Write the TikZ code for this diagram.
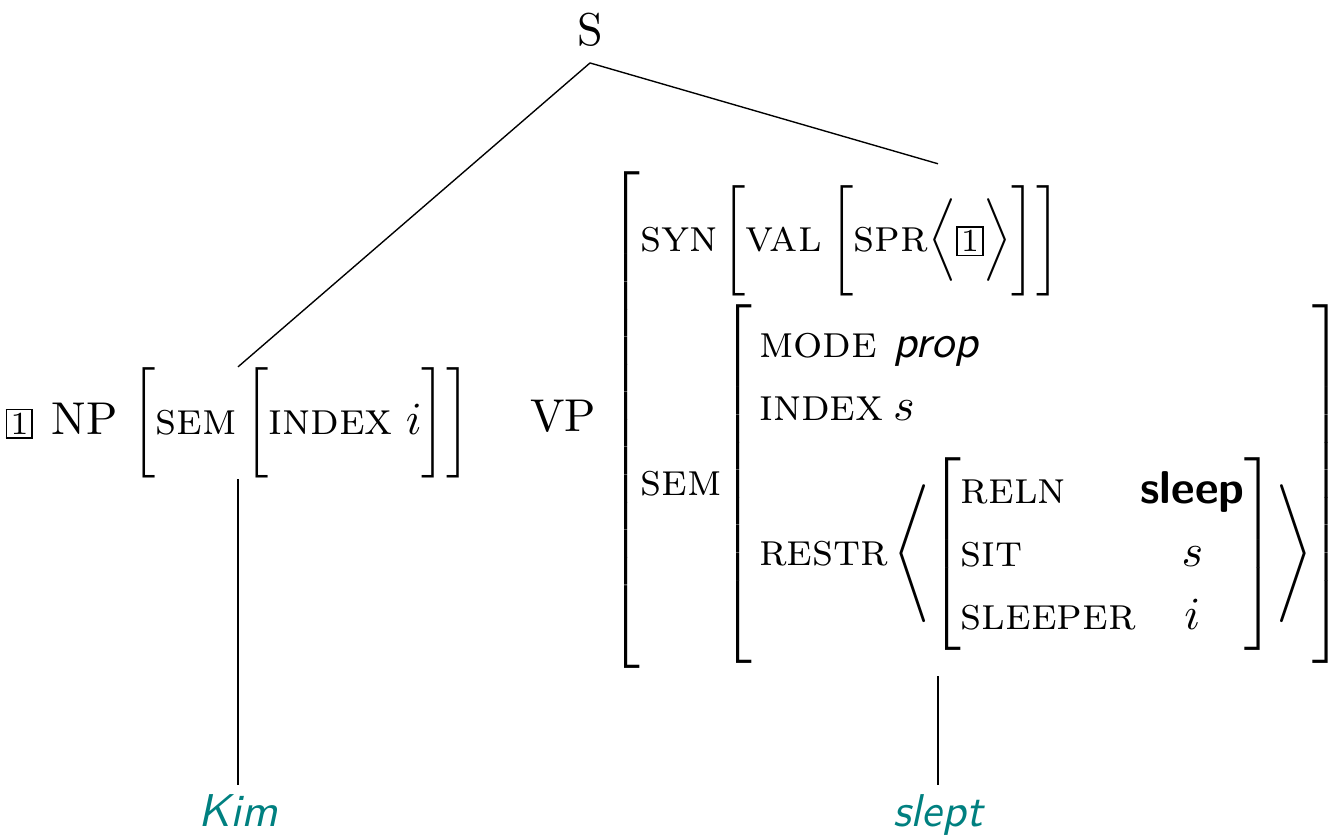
\documentclass[tikz,border=0pt]{standalone}
\usepackage{amsmath}
\usepackage{xcolor}
\usetikzlibrary{positioning}
\definecolor{cLeaf}{RGB}{0,128,128}
\newcommand{\tg}[1]{{\setlength{\fboxsep}{0.6pt}\setlength{\fboxrule}{0.4pt}\fbox{\scriptsize #1}}}
\newcommand{\att}[1]{\text{\textsc{#1}}}
\newcommand{\vsz}[1]{\vcenter{\hrule height #1 width 0pt}}
\tikzset{
	cat/.style   ={inner sep=0pt},
	leaf/.style  ={font=\sffamily\itshape, text=cLeaf, inner sep=2pt},
	branch/.style={line width=0.3pt},
}

\begin{document}
\begin{tikzpicture}[x=0.2174pt, y=-0.2174pt]
	\clip (0,0) rectangle (1336,836);
	\node (s) at (590,30) {S};
	\node[cat] (np) at (238,423) {\tg{1}\hspace{4pt}NP\hspace{3pt}$\biggl[\att{sem}\,\biggl[\att{index}\;i\biggr]\biggr]$};
	\node[cat] (vp) at (938,420) {\renewcommand{\arraystretch}{1.14}%
		\hspace*{6pt}VP\hspace{3pt}$\left[\begin{array}{@{}l@{}l@{}}
			\att{syn}\rule{0pt}{18.4pt} & \biggl[\att{val}\,\biggl[\att{spr}\Bigl\langle\text{\tg{1}}\Bigr\rangle\biggr]\biggr]\\[4.3pt]
			\att{sem} & \left[\begin{array}{@{\hspace{1.5pt}}l@{\hspace{1pt}}l@{}}
				\att{mode}  & \textsf{\textit{prop}}\\
				\att{index} & s\\[3pt]
				\att{restr} & \Biggl\langle\left[\begin{array}{@{}l@{\hspace{1pt}}c@{}}
					\att{reln}    & \textsf{\textbf{sleep}}\\
					\att{sit}     & s\\
					\att{sleeper} & i
				\end{array}\vsz{44pt}\right]\Biggr\rangle
			\end{array}\vsz{82pt}\right]
		\end{array}\vsz{111pt}\right]$};
	\node[leaf, anchor=base] (kim) at (238,827) {Kim};
	\node[leaf, anchor=base] (slept) at (938,827) {slept};
	% branches
	\draw[branch] (s.south) -- (np.north);
	\draw[branch] (s.south) -- (vp.north);
	\draw[branch] (np.south) -- (kim.north);
	\draw[branch] (vp.south) -- (slept.north);
\end{tikzpicture}
\end{document}
